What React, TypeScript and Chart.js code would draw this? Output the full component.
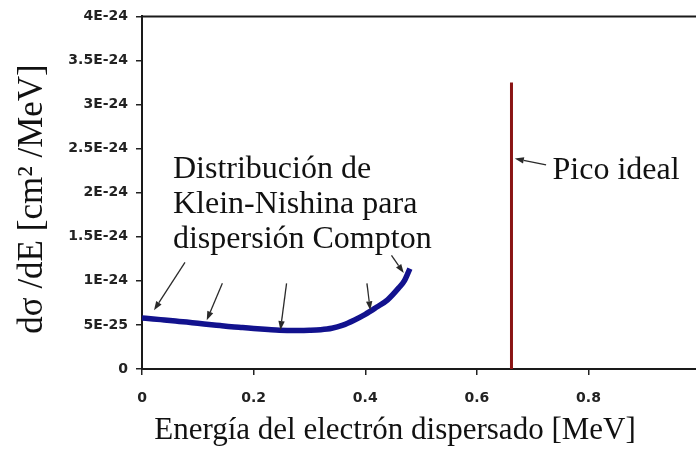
import React, { useEffect, useRef } from "react";
import { Chart, registerables } from "chart.js";

Chart.register(...registerables);

// Electron kinetic energy (MeV) for the Klein-Nishina continuum
const energy = [
  0.0, 0.02, 0.04, 0.06, 0.08, 0.1, 0.12, 0.14, 0.16, 0.18, 0.2, 0.22, 0.24,
  0.26, 0.28, 0.3, 0.32, 0.34, 0.36, 0.38, 0.4, 0.42, 0.44, 0.46, 0.47, 0.48,
];
// dσ/dE in cm²/MeV
const crossSection = [
  5.78e-25, 5.68e-25, 5.56e-25, 5.44e-25, 5.32e-25, 5.18e-25, 5.06e-25,
  4.93e-25, 4.8e-25, 4.7e-25, 4.6e-25, 4.5e-25, 4.42e-25, 4.38e-25, 4.38e-25,
  4.4e-25, 4.46e-25, 4.62e-25, 4.98e-25, 5.54e-25, 6.2e-25, 7.0e-25, 7.85e-25,
  9.2e-25, 10.0e-25, 11.4e-25,
];
// Ideal photopeak
const peakEnergy = 0.662;
const peakHeight = 3.25e-24;

const xMin = 0;
const xMax = 1;
const xStep = 0.2;
const yMin = 0;
const yMax = 4e-24;
const yStep = 5e-25;

const xTitle = "Energía del electrón dispersado [MeV]";
const yTitle = "dσ /dE [cm² /MeV]";
const curveLabel = ["Distribución de", "Klein-Nishina para", "dispersión Compton"];
const peakLabel = "Pico ideal";

// Pointer arrows, given in data units: [x, y] tail -> head
const curveArrows: [number, number, number, number][] = [
  [0.077, 1.21e-24, 0.0215, 6.67e-25],
  [0.144, 9.72e-25, 0.116, 5.54e-25],
  [0.259, 9.72e-25, 0.248, 4.41e-25],
  [0.403, 9.72e-25, 0.409, 6.67e-25],
  [0.447, 1.288e-24, 0.469, 1.088e-24],
];
const peakArrow: [number, number, number, number] = [0.724, 2.316e-24, 0.668, 2.388e-24];

const SERIF = '"Liberation Serif", "Times New Roman", serif';
const TICK_FONT = { family: '"DejaVu Sans", Arial, sans-serif', size: 14, weight: "bold" as const };

function fmtY(v: number): string {
  if (Math.abs(v) < 1e-30) return "0";
  return Number(v.toPrecision(3)).toExponential().toUpperCase().replace("+", "");
}

function drawArrow(ctx: CanvasRenderingContext2D, x1: number, y1: number, x2: number, y2: number) {
  const ang = Math.atan2(y2 - y1, x2 - x1);
  const head = 9;
  const half = 3.2;
  const bx = x2 - head * Math.cos(ang);
  const by = y2 - head * Math.sin(ang);
  ctx.beginPath();
  ctx.moveTo(x1, y1);
  ctx.lineTo(bx, by);
  ctx.stroke();
  ctx.beginPath();
  ctx.moveTo(x2, y2);
  ctx.lineTo(bx + half * Math.sin(ang), by - half * Math.cos(ang));
  ctx.lineTo(bx - half * Math.sin(ang), by + half * Math.cos(ang));
  ctx.closePath();
  ctx.fill();
}

const annotations = {
  id: "annotations",
  afterDraw(chart: any) {
    const { ctx, chartArea } = chart;
    const xs = chart.scales.x;
    const ys = chart.scales.y;
    ctx.save();

    // frame on top and right
    ctx.strokeStyle = "#1a1a1a";
    ctx.lineWidth = 2;
    ctx.beginPath();
    ctx.moveTo(chartArea.left, chartArea.top);
    ctx.lineTo(chartArea.right, chartArea.top);
    ctx.lineTo(chartArea.right, chartArea.bottom);
    ctx.stroke();

    // arrows
    ctx.strokeStyle = "#2a2a2a";
    ctx.fillStyle = "#2a2a2a";
    ctx.lineWidth = 1.3;
    for (const a of [...curveArrows, peakArrow]) {
      drawArrow(
        ctx,
        xs.getPixelForValue(a[0]),
        ys.getPixelForValue(a[1]),
        xs.getPixelForValue(a[2]),
        ys.getPixelForValue(a[3])
      );
    }

    // text labels
    ctx.fillStyle = "#111";
    ctx.textBaseline = "alphabetic";
    ctx.textAlign = "left";
    ctx.font = `32px ${SERIF}`;
    const lx = xs.getPixelForValue(0.0555);
    const ly = ys.getPixelForValue(2.17e-24);
    curveLabel.forEach((line, i) => ctx.fillText(line, lx, ly + i * 35));

    ctx.font = `32px ${SERIF}`;
    ctx.fillText(peakLabel, xs.getPixelForValue(0.7355), ys.getPixelForValue(2.158e-24));

    // axis titles
    ctx.font = `31px ${SERIF}`;
    ctx.textAlign = "center";
    ctx.fillText(xTitle, 395, 439);

    ctx.translate(42, 199);
    ctx.rotate(-Math.PI / 2);
    ctx.font = `35px ${SERIF}`;
    ctx.fillText(yTitle, 0, 0);

    ctx.restore();
  },
};

export default function App() {
  const ref = useRef<HTMLCanvasElement | null>(null);

  useEffect(() => {
    if (!ref.current) return;
    const chart = new Chart(ref.current, {
      type: "line",
      data: {
        datasets: [
          {
            label: "Klein-Nishina",
            data: energy.map((e, i) => ({ x: e, y: crossSection[i] })),
            borderColor: "#12128e",
            borderWidth: 5.5,
            pointRadius: 0,
            tension: 0.35,
            cubicInterpolationMode: "monotone",
          },
          {
            label: "Pico ideal",
            data: [
              { x: peakEnergy, y: 0 },
              { x: peakEnergy, y: peakHeight },
            ],
            borderColor: "#8a1414",
            borderWidth: 3,
            pointRadius: 0,
          },
        ],
      },
      options: {
        responsive: false,
        animation: false,
        layout: { padding: { left: 0, top: 15, right: 19, bottom: 0 } },
        plugins: { legend: { display: false }, tooltip: { enabled: false } },
        scales: {
          x: {
            type: "linear",
            min: xMin,
            max: xMax,
            afterFit(scale: any) {
              scale.height = 85;
            },
            ticks: {
              stepSize: xStep,
              color: "#222",
              font: TICK_FONT,
              padding: 15,
              maxRotation: 0,
              callback: (v: any) => String(Number(Number(v).toFixed(1))),
            },
            grid: { drawOnChartArea: false, drawTicks: true, tickLength: 6, color: "#222", lineWidth: 1.5 },
            border: { display: true, color: "#1a1a1a", width: 2 },
          },
          y: {
            type: "linear",
            min: yMin,
            max: yMax,
            afterFit(scale: any) {
              scale.width = 142;
            },
            ticks: {
              stepSize: yStep,
              color: "#222",
              font: TICK_FONT,
              padding: 8,
              callback: (v: any) => fmtY(Number(v)),
            },
            grid: { drawOnChartArea: false, drawTicks: true, tickLength: 6, color: "#222", lineWidth: 1.5 },
            border: { display: true, color: "#1a1a1a", width: 2 },
          },
        },
      },
      plugins: [annotations],
    });
    return () => chart.destroy();
  }, []);

  return (
    <div
      style={{
        position: "fixed",
        left: 0,
        top: 0,
        width: 696,
        height: 454,
        overflow: "hidden",
        background: "#fff",
      }}
    >
      <canvas ref={ref} width={720} height={454} style={{ display: "block" }} />
    </div>
  );
}
